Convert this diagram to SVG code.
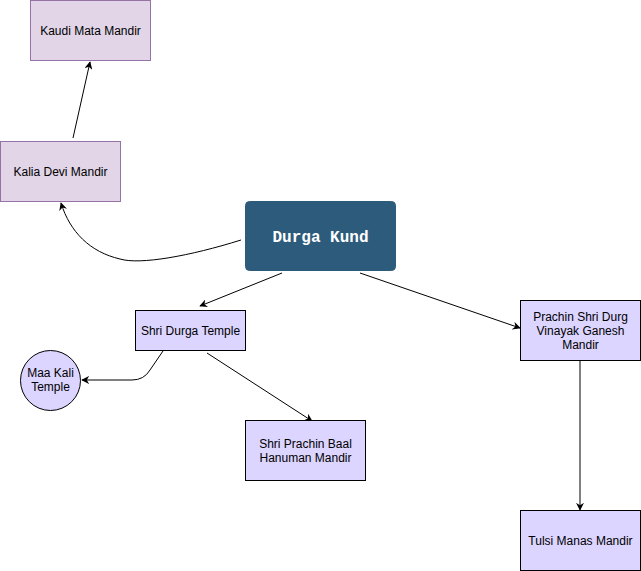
<svg xmlns="http://www.w3.org/2000/svg" width="641" height="571" viewBox="0 0 641 571">
<style>
.t{font-family:"Liberation Sans",Arial,sans-serif;font-size:12px;fill:#000;text-anchor:middle}
.pk{fill:#e1d5e7;stroke:#9673a6;stroke-width:1}
.lv{fill:#dcd5ff;stroke:#000;stroke-width:1}
.e{fill:none;stroke:#000;stroke-width:1;marker-end:url(#a)}
</style>
<defs>
<marker id="a" viewBox="0 0 10 10" refX="9" refY="5" markerWidth="8" markerHeight="8" markerUnits="userSpaceOnUse" orient="auto">
<path d="M0,0 L10,5 L0,10 L3,5 Z" fill="#000"/>
</marker>
</defs>
<rect width="641" height="571" fill="#fff"/>
<g id="edges">
<path class="e" d="M73,138 L90,62"/>
<path class="e" d="M241,240 C190,256 140,265 120,259 C90,252 70,232 61,203"/>
<path class="e" d="M282,273 L200,306"/>
<path class="e" d="M360,273 L520,328"/>
<path class="e" d="M163,351 L150,370 Q144,380 132,380 L82,380"/>
<path class="e" d="M207,353 L312,421"/>
<path class="e" d="M580,361 L580,510"/>
</g>
<g id="kaudi"><rect class="pk" x="30.5" y="0.5" width="120" height="60"/><text class="t" x="90.5" y="35">Kaudi Mata Mandir</text></g>
<g id="kalia"><rect class="pk" x="0.5" y="141.5" width="120" height="60"/><text class="t" x="60.5" y="176">Kalia Devi Mandir</text></g>
<g id="durgakund"><rect x="245.5" y="201.5" width="150" height="69" rx="4" fill="#2d5b7c" stroke="#2d5b7c"/><text x="320.5" y="242" font-family="'Liberation Mono','DejaVu Sans Mono',monospace" font-size="16" font-weight="bold" fill="#fff" text-anchor="middle">Durga Kund</text></g>
<g id="shridurga"><rect class="lv" x="135.5" y="310.5" width="110" height="40"/><text class="t" x="190.5" y="335">Shri Durga Temple</text></g>
<g id="maakali"><circle class="lv" cx="50.5" cy="380.5" r="30"/><text class="t" x="50.5" y="377">Maa Kali</text><text class="t" x="50.5" y="391">Temple</text></g>
<g id="hanuman"><rect class="lv" x="245.5" y="420.5" width="120" height="60"/><text class="t" x="305.5" y="448">Shri Prachin Baal</text><text class="t" x="305.5" y="462">Hanuman Mandir</text></g>
<g id="ganesh"><rect class="lv" x="520.5" y="300.5" width="120" height="60"/><text class="t" x="580.5" y="321">Prachin Shri Durg</text><text class="t" x="580.5" y="335">Vinayak Ganesh</text><text class="t" x="580.5" y="349">Mandir</text></g>
<g id="tulsi"><rect class="lv" x="520.5" y="510.5" width="120" height="60"/><text class="t" x="580.5" y="545">Tulsi Manas Mandir</text></g>
</svg>
